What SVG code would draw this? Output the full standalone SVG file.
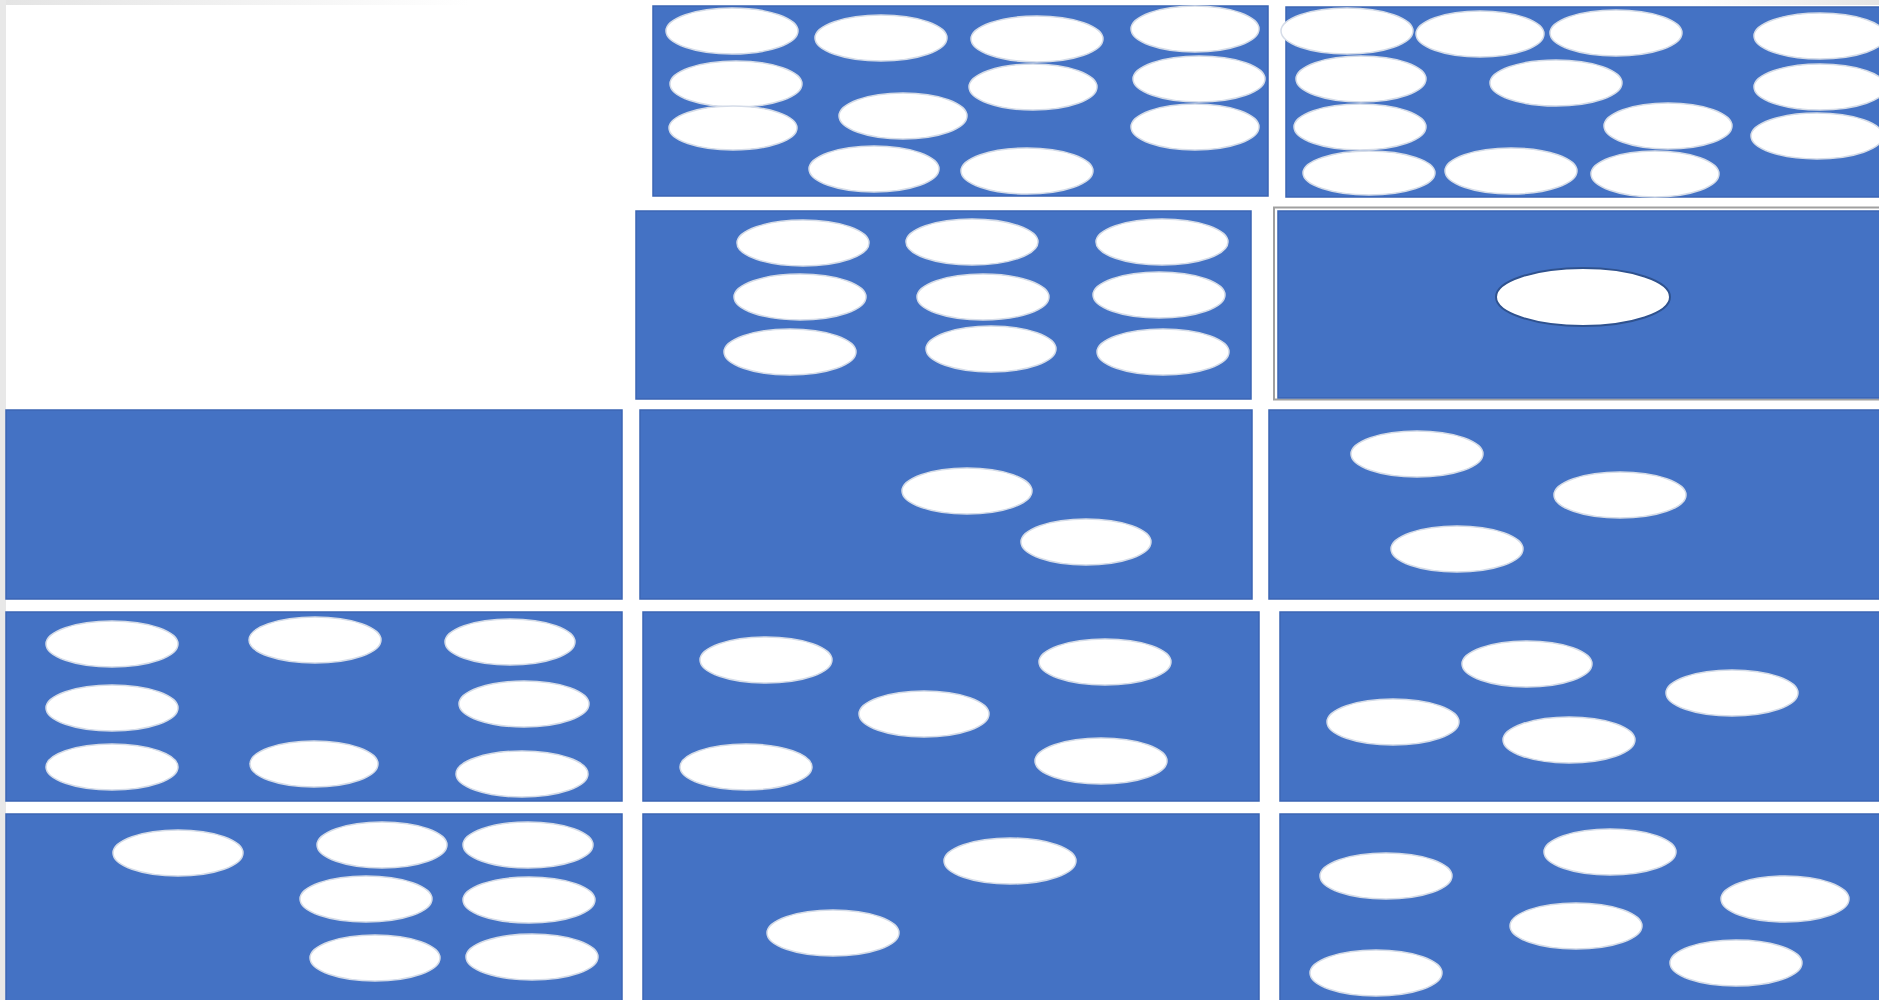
<svg xmlns="http://www.w3.org/2000/svg" width="1879" height="1000" viewBox="0 0 1879 1000">
<defs>
<style>
.panel{fill:#4472C4;stroke:#3B65B4;stroke-width:1.5}
.dot{fill:#FFFFFF;stroke:#D5DCE8;stroke-width:1.5}
.dot2{fill:#FFFFFF;stroke:#2F528F;stroke-width:2}
</style>
<linearGradient id="topfade" x1="0" y1="0" x2="1" y2="0">
<stop offset="0" stop-color="#e4e4e4"/>
<stop offset="0.25" stop-color="#ffffff"/>
<stop offset="0.9" stop-color="#ffffff"/>
<stop offset="1" stop-color="#e4e4e4"/>
</linearGradient>
</defs>
<rect x="0" y="0" width="1879" height="1000" fill="#ffffff"/>
<rect x="0" y="0" width="1879" height="5" fill="url(#topfade)"/>
<rect x="0" y="0" width="6" height="1000" fill="#e8e8e8"/>

<g id="r1a">
<rect class="panel" x="653" y="6" width="615" height="190"/>
<ellipse class="dot" cx="732" cy="31" rx="66" ry="23"/>
<ellipse class="dot" cx="881" cy="38" rx="66" ry="23"/>
<ellipse class="dot" cx="1037" cy="39" rx="66" ry="23"/>
<ellipse class="dot" cx="1195" cy="29" rx="64" ry="23"/>
<ellipse class="dot" cx="736" cy="84" rx="66" ry="23"/>
<ellipse class="dot" cx="1033" cy="87" rx="64" ry="23"/>
<ellipse class="dot" cx="1199" cy="79" rx="66" ry="23"/>
<ellipse class="dot" cx="733" cy="128" rx="64" ry="22"/>
<ellipse class="dot" cx="903" cy="116" rx="64" ry="23"/>
<ellipse class="dot" cx="1195" cy="127" rx="64" ry="23"/>
<ellipse class="dot" cx="874" cy="169" rx="65" ry="23"/>
<ellipse class="dot" cx="1027" cy="171" rx="66" ry="23"/>
</g>

<g id="r1b">
<rect class="panel" x="1286" y="7" width="600" height="190"/>
<ellipse class="dot" cx="1347" cy="31" rx="66" ry="23"/>
<ellipse class="dot" cx="1480" cy="34" rx="64" ry="23"/>
<ellipse class="dot" cx="1616" cy="33" rx="66" ry="23"/>
<ellipse class="dot" cx="1820" cy="36" rx="66" ry="23"/>
<ellipse class="dot" cx="1361" cy="79" rx="65" ry="23"/>
<ellipse class="dot" cx="1556" cy="83" rx="66" ry="23"/>
<ellipse class="dot" cx="1820" cy="87" rx="66" ry="23"/>
<ellipse class="dot" cx="1360" cy="127" rx="66" ry="23"/>
<ellipse class="dot" cx="1668" cy="126" rx="64" ry="23"/>
<ellipse class="dot" cx="1817" cy="136" rx="66" ry="23"/>
<ellipse class="dot" cx="1369" cy="173" rx="66" ry="22"/>
<ellipse class="dot" cx="1511" cy="171" rx="66" ry="23"/>
<ellipse class="dot" cx="1655" cy="174" rx="64" ry="23"/>
</g>

<g id="r2a">
<rect class="panel" x="636" y="211" width="615" height="188"/>
<ellipse class="dot" cx="803" cy="243" rx="66" ry="23"/>
<ellipse class="dot" cx="972" cy="242" rx="66" ry="23"/>
<ellipse class="dot" cx="1162" cy="242" rx="66" ry="23"/>
<ellipse class="dot" cx="800" cy="297" rx="66" ry="23"/>
<ellipse class="dot" cx="983" cy="297" rx="66" ry="23"/>
<ellipse class="dot" cx="1159" cy="295" rx="66" ry="23"/>
<ellipse class="dot" cx="790" cy="352" rx="66" ry="23"/>
<ellipse class="dot" cx="991" cy="349" rx="65" ry="23"/>
<ellipse class="dot" cx="1163" cy="352" rx="66" ry="23"/>
</g>

<g id="r2b">
<rect x="1274" y="207.5" width="610" height="192" fill="none" stroke="#a0a0a0" stroke-width="2"/>
<rect class="panel" x="1278" y="211" width="605" height="187" stroke="#b9c3d6"/>
<ellipse class="dot2" cx="1583" cy="297" rx="87" ry="29"/>
</g>

<g id="r3a">
<rect class="panel" x="6" y="410" width="616" height="189"/>
</g>

<g id="r3b">
<rect class="panel" x="640" y="410" width="612" height="189"/>
<ellipse class="dot" cx="967" cy="491" rx="65" ry="23"/>
<ellipse class="dot" cx="1086" cy="542" rx="65" ry="23"/>
</g>

<g id="r3c">
<rect class="panel" x="1269" y="410" width="615" height="189"/>
<ellipse class="dot" cx="1417" cy="454" rx="66" ry="23"/>
<ellipse class="dot" cx="1620" cy="495" rx="66" ry="23"/>
<ellipse class="dot" cx="1457" cy="549" rx="66" ry="23"/>
</g>

<g id="r4a">
<rect class="panel" x="6" y="612" width="616" height="189"/>
<ellipse class="dot" cx="112" cy="644" rx="66" ry="23"/>
<ellipse class="dot" cx="315" cy="640" rx="66" ry="23"/>
<ellipse class="dot" cx="510" cy="642" rx="65" ry="23"/>
<ellipse class="dot" cx="112" cy="708" rx="66" ry="23"/>
<ellipse class="dot" cx="524" cy="704" rx="65" ry="23"/>
<ellipse class="dot" cx="112" cy="767" rx="66" ry="23"/>
<ellipse class="dot" cx="314" cy="764" rx="64" ry="23"/>
<ellipse class="dot" cx="522" cy="774" rx="66" ry="23"/>
</g>

<g id="r4b">
<rect class="panel" x="643" y="612" width="616" height="189"/>
<ellipse class="dot" cx="766" cy="660" rx="66" ry="23"/>
<ellipse class="dot" cx="1105" cy="662" rx="66" ry="23"/>
<ellipse class="dot" cx="924" cy="714" rx="65" ry="23"/>
<ellipse class="dot" cx="746" cy="767" rx="66" ry="23"/>
<ellipse class="dot" cx="1101" cy="761" rx="66" ry="23"/>
</g>

<g id="r4c">
<rect class="panel" x="1280" y="612" width="605" height="189"/>
<ellipse class="dot" cx="1527" cy="664" rx="65" ry="23"/>
<ellipse class="dot" cx="1732" cy="693" rx="66" ry="23"/>
<ellipse class="dot" cx="1393" cy="722" rx="66" ry="23"/>
<ellipse class="dot" cx="1569" cy="740" rx="66" ry="23"/>
</g>

<g id="r5a">
<rect class="panel" x="6" y="814" width="616" height="192"/>
<ellipse class="dot" cx="178" cy="853" rx="65" ry="23"/>
<ellipse class="dot" cx="382" cy="845" rx="65" ry="23"/>
<ellipse class="dot" cx="528" cy="845" rx="65" ry="23"/>
<ellipse class="dot" cx="366" cy="899" rx="66" ry="23"/>
<ellipse class="dot" cx="529" cy="900" rx="66" ry="23"/>
<ellipse class="dot" cx="375" cy="958" rx="65" ry="23"/>
<ellipse class="dot" cx="532" cy="957" rx="66" ry="23"/>
</g>

<g id="r5b">
<rect class="panel" x="643" y="814" width="616" height="192"/>
<ellipse class="dot" cx="1010" cy="861" rx="66" ry="23"/>
<ellipse class="dot" cx="833" cy="933" rx="66" ry="23"/>
</g>

<g id="r5c">
<rect class="panel" x="1280" y="814" width="605" height="192"/>
<ellipse class="dot" cx="1610" cy="852" rx="66" ry="23"/>
<ellipse class="dot" cx="1386" cy="876" rx="66" ry="23"/>
<ellipse class="dot" cx="1785" cy="899" rx="64" ry="23"/>
<ellipse class="dot" cx="1576" cy="926" rx="66" ry="23"/>
<ellipse class="dot" cx="1736" cy="963" rx="66" ry="23"/>
<ellipse class="dot" cx="1376" cy="973" rx="66" ry="23"/>
</g>
</svg>
